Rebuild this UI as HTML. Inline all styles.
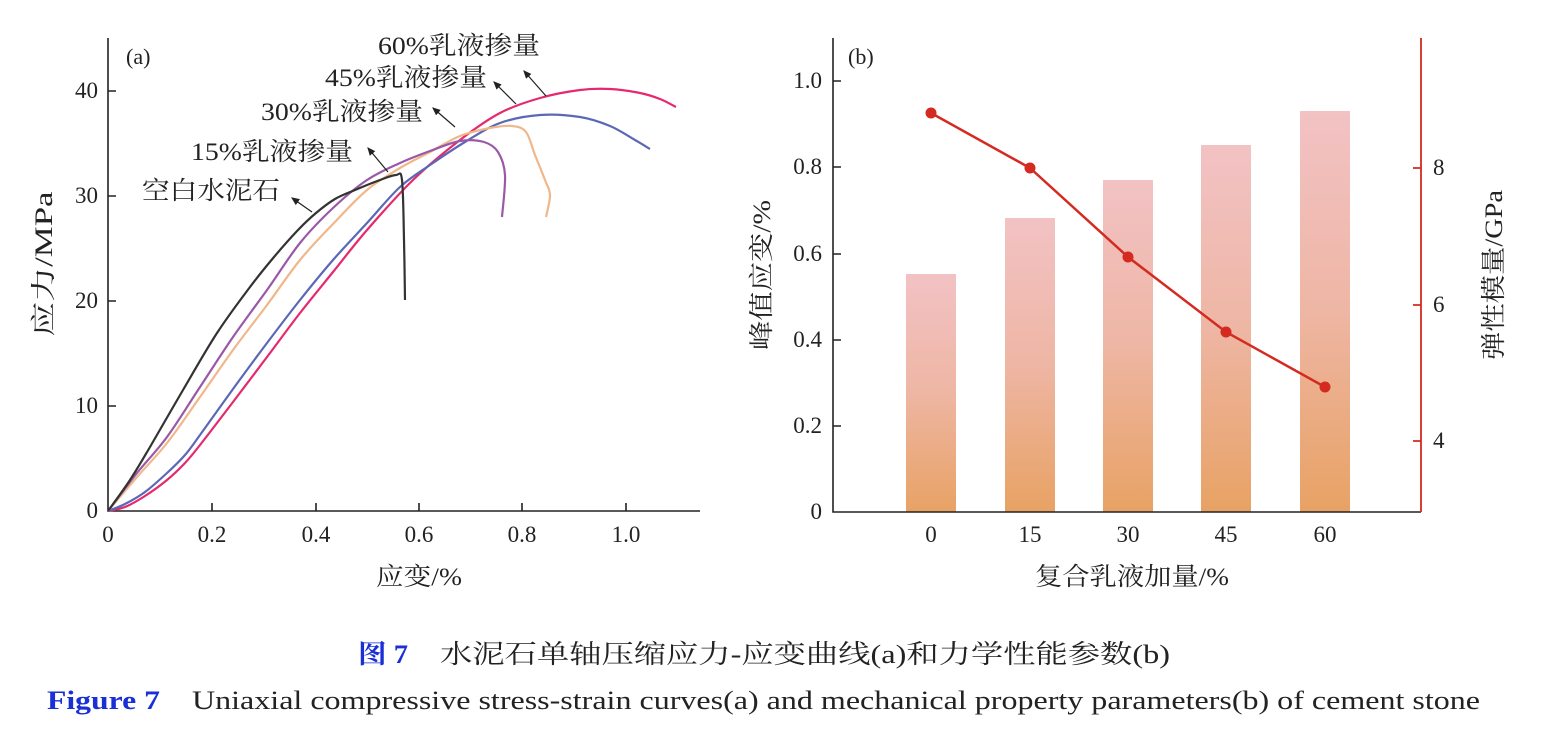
<!DOCTYPE html>
<html><head><meta charset="utf-8"><style>
body{margin:0;background:#fff}
svg text{font-family:"Liberation Serif","Noto Serif CJK SC",serif;}
</style></head><body>
<svg id="s" width="1564" height="737" viewBox="0 0 1564 737" xmlns="http://www.w3.org/2000/svg">
<defs>
<linearGradient id="g" x1="0" y1="0" x2="0" y2="1">
<stop offset="0" stop-color="#f2c2c4"/><stop offset="0.5" stop-color="#eeb6a4"/><stop offset="1" stop-color="#e8a264"/>
</linearGradient>
<marker id="ar" markerWidth="8" markerHeight="8" refX="6" refY="4" orient="auto"><path d="M0,1 L7,4 L0,7 z" fill="#222"/></marker>
</defs>
<g stroke="#222" stroke-width="1.6" fill="none">
<path d="M108,38 V511 H700"/>
<path d="M108,406 h8 M108,301 h8 M108,196 h8 M108,91 h8"/>
<path d="M212,511 v-8 M316,511 v-8 M419,511 v-8 M522,511 v-8 M626,511 v-8"/>
</g>
<g font-size="23" fill="#222" text-anchor="end">
<text x="98" y="518">0</text><text x="98" y="413">10</text><text x="98" y="308">20</text><text x="98" y="203">30</text><text x="98" y="98">40</text>
</g>
<g font-size="23" fill="#222" text-anchor="middle">
<text x="108" y="542">0</text><text x="212" y="542">0.2</text><text x="316" y="542">0.4</text><text x="419" y="542">0.6</text><text x="522" y="542">0.8</text><text x="626" y="542">1.0</text>
</g>
<text x="376" y="585" font-size="25" fill="#222" textLength="86" lengthAdjust="spacingAndGlyphs">应变/%</text>
<text x="0" y="0" font-size="25" fill="#222" text-anchor="middle" transform="translate(52 264) rotate(-90)" textLength="145" lengthAdjust="spacingAndGlyphs">应力/MPa</text>
<text x="126" y="64" font-size="22" fill="#222">(a)</text>
<g id="curves" fill="none" stroke-width="2.2"></g>
<g stroke="#222" stroke-width="1.2" fill="none" marker-end="url(#ar)">
<path d="M312,212 L292,198"/>
<path d="M388,172 L368,148"/>
<path d="M455,127 L433,108"/>
<path d="M516,104 L494,82"/>
<path d="M546,96 L524,71"/>
</g>
<g font-size="25" fill="#222">
<text x="142" y="199" textLength="138" lengthAdjust="spacingAndGlyphs">空白水泥石</text>
<text x="191" y="160" textLength="162" lengthAdjust="spacingAndGlyphs">15%乳液掺量</text>
<text x="261" y="120" textLength="162" lengthAdjust="spacingAndGlyphs">30%乳液掺量</text>
<text x="325" y="86" textLength="162" lengthAdjust="spacingAndGlyphs">45%乳液掺量</text>
<text x="378" y="54" textLength="162" lengthAdjust="spacingAndGlyphs">60%乳液掺量</text>
</g>
<g fill="url(#g)">
<rect x="906" y="274" width="50" height="238"/>
<rect x="1005" y="218" width="50" height="294"/>
<rect x="1103" y="180" width="50" height="332"/>
<rect x="1201" y="145" width="50" height="367"/>
<rect x="1300" y="111" width="50" height="401"/>
</g>
<g stroke="#222" stroke-width="1.6" fill="none">
<path d="M833,38 V512 H1421"/>
<path d="M833,426 h8 M833,340 h8 M833,254 h8 M833,167 h8 M833,81 h8"/>
</g>
<path d="M1421,38 V512 M1421,441 h-8 M1421,305 h-8 M1421,168 h-8" stroke="#d42a20" stroke-width="1.8" fill="none"/>
<g font-size="23" fill="#222" text-anchor="end">
<text x="822" y="519">0</text><text x="822" y="433">0.2</text><text x="822" y="347">0.4</text><text x="822" y="261">0.6</text><text x="822" y="174">0.8</text><text x="822" y="88">1.0</text>
</g>
<g font-size="23" fill="#222">
<text x="1433" y="448">4</text><text x="1433" y="312">6</text><text x="1433" y="175">8</text>
</g>
<g font-size="23" fill="#222" text-anchor="middle">
<text x="931" y="542">0</text><text x="1030" y="542">15</text><text x="1128" y="542">30</text><text x="1226" y="542">45</text><text x="1325" y="542">60</text>
</g>
<text x="1035" y="585" font-size="25" fill="#222" textLength="194" lengthAdjust="spacingAndGlyphs">复合乳液加量/%</text>
<text x="0" y="0" font-size="25" fill="#222" text-anchor="middle" transform="translate(770 275) rotate(-90)" textLength="150" lengthAdjust="spacingAndGlyphs">峰值应变/%</text>
<text x="0" y="0" font-size="25" fill="#222" text-anchor="middle" transform="translate(1502 275) rotate(-90)" textLength="170" lengthAdjust="spacingAndGlyphs">弹性模量/GPa</text>
<text x="848" y="64" font-size="22" fill="#222">(b)</text>
<polyline points="931,113 1030,168 1128,257 1226,332 1325,387" fill="none" stroke="#d42a20" stroke-width="2.5"/>
<g fill="#d42a20"><circle cx="931" cy="113" r="5.5"/><circle cx="1030" cy="168" r="5.5"/><circle cx="1128" cy="257" r="5.5"/><circle cx="1226" cy="332" r="5.5"/><circle cx="1325" cy="387" r="5.5"/></g>
<text x="358" y="663" font-size="26" fill="#1a2fd6" font-weight="bold" textLength="50" lengthAdjust="spacingAndGlyphs">图 7</text>
<text x="440" y="663" font-size="26" fill="#222" textLength="730" lengthAdjust="spacingAndGlyphs">水泥石单轴压缩应力-应变曲线(a)和力学性能参数(b)</text>
<text x="47" y="709" font-size="26" fill="#1a2fd6" font-weight="bold" textLength="113" lengthAdjust="spacingAndGlyphs">Figure 7</text>
<text x="192" y="709" font-size="26" fill="#222" textLength="1288" lengthAdjust="spacingAndGlyphs">Uniaxial compressive stress-strain curves(a) and mechanical property parameters(b) of cement stone</text>
</svg>
<script>
var C=[
["#e5296e",[[108,511],[125,507],[145,496],[167,480],[185,463],[200,445],[233,402],[267,357],[300,313],[333,272],[367,230],[413,180],[460,140],[500,113],[540,98],[580,90],[610,89],[640,93],[660,99],[676,107]]],
["#5a68b5",[[108,511],[125,504],[145,492],[167,473],[185,455],[200,435],[233,389],[267,343],[300,300],[333,260],[367,223],[400,187],[430,165],[465,142],[500,123],[540,115],[580,117],[610,126],[635,140],[650,149]]],
["#f0b88a",[[108,511],[137,477],[167,443],[200,397],[233,350],[267,305],[300,260],[333,224],[367,190],[400,168],[430,152],[460,136],[490,128],[512,126],[526,132],[535,155],[545,180],[550,195],[546,217]]],
["#9a58a8",[[108,511],[137,473],[167,437],[200,387],[233,337],[267,290],[300,243],[333,208],[367,180],[400,163],[430,151],[460,141],[484,142],[498,152],[505,175],[502,217]]],
["#333",[[108,511],[130,480],[150,447],[183,390],[217,333],[250,287],[274,257],[298,230],[316,213],[335,199],[355,190],[380,180],[396,175],[402,180],[404,240],[405,300]]]];
var g=document.getElementById("curves"),ns="http://www.w3.org/2000/svg";
C.forEach(function(c){var p=c[1],d="M"+p[0];for(var i=0;i<p.length-1;i++){var a=p[i-1]||p[i],b=p[i],e=p[i+1],f=p[i+2]||e;
d+=" C"+(b[0]+(e[0]-a[0])/6)+","+(b[1]+(e[1]-a[1])/6)+" "+(e[0]-(f[0]-b[0])/6)+","+(e[1]-(f[1]-b[1])/6)+" "+e[0]+","+e[1];}
var el=document.createElementNS(ns,"path");el.setAttribute("d",d);el.setAttribute("stroke",c[0]);g.appendChild(el);});
</script>
</body></html>
